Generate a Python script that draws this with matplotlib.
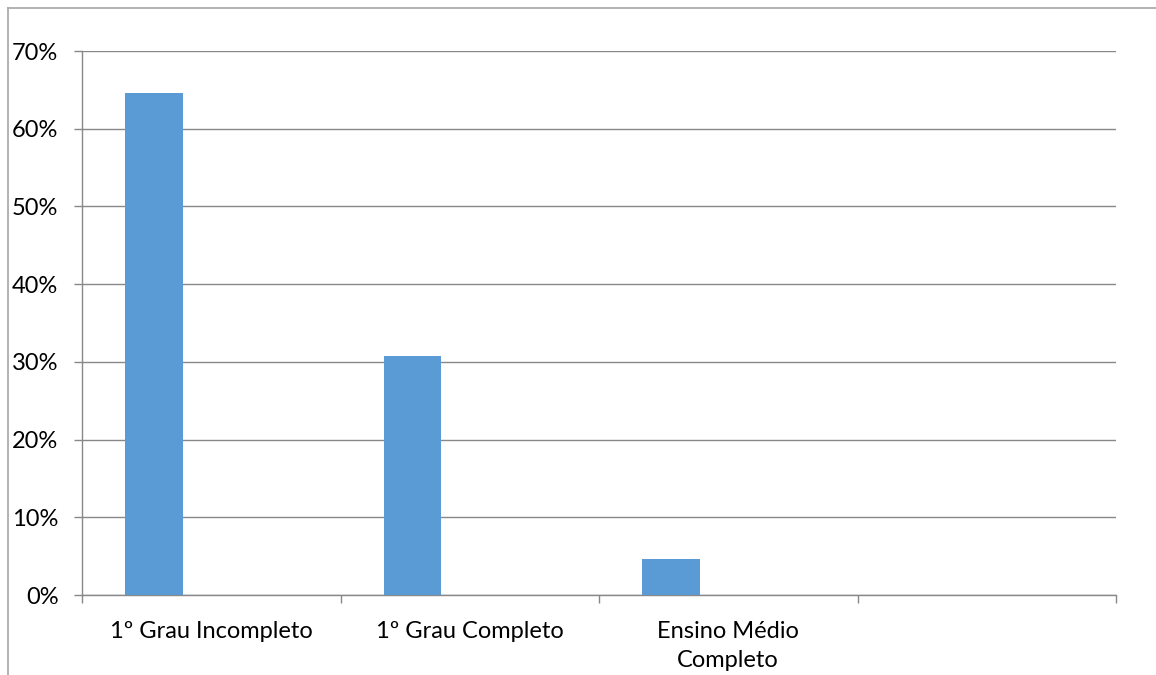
import numpy as np
import matplotlib.pyplot as plt
from matplotlib.lines import Line2D
from matplotlib.ticker import PercentFormatter, FixedLocator

plt.rcParams['font.family'] = ['Lato', 'DejaVu Sans']

# Escolaridade (fração dos entrevistados)
categorias = ['1º Grau Incompleto', '1º Grau Completo', 'Ensino Médio\nCompleto', '']
valores = [0.646, 0.308, 0.046, 0.0]

cor_barra = '#5B9BD5'
cor_grade = '#888888'

fig = plt.figure(figsize=(11.56, 6.75), dpi=100)
ax = fig.add_axes([82/1156, 1 - 595/675, (1116 - 82)/1156, (595 - 51)/675])

# clustered layout: three series per slot, gap width 150 %, only the first has data
n_series = 3
gap = 1.5
w = 1.0 / (n_series + gap)
x = np.arange(len(categorias))
offset = -0.5 + gap * w / 2 + w / 2
ax.bar(x + offset, valores, width=w, color=cor_barra, zorder=3)

ax.set_xlim(-0.5, len(categorias) - 0.5)
ax.set_ylim(0, 0.7)
ax.set_yticks(np.arange(0, 0.71, 0.1))
ax.yaxis.set_major_formatter(PercentFormatter(1.0, decimals=0))
ax.set_xticks(x)
ax.set_xticklabels(categorias, linespacing=1.45)
ax.xaxis.set_minor_locator(FixedLocator(np.arange(-0.5, len(categorias), 1.0)))

ax.grid(axis='y', color=cor_grade, linewidth=1.0, zorder=0)
for lado in ['top', 'right']:
    ax.spines[lado].set_visible(False)
for lado in ['left', 'bottom']:
    ax.spines[lado].set_color(cor_grade)
    ax.spines[lado].set_linewidth(1.0)

ax.tick_params(axis='y', direction='out', length=6, width=1.0, color=cor_grade,
               pad=11, labelsize=17, labelcolor='black')
ax.tick_params(axis='x', which='major', length=0, pad=19, labelsize=17,
               labelcolor='black')
ax.tick_params(axis='x', which='minor', direction='out', length=6, width=1.0,
               color=cor_grade)

# moldura externa do gráfico
fig.add_artist(Line2D([7.5/1156, 7.5/1156], [0, 1 - 8/675],
                      transform=fig.transFigure, color='#a6a6a6', linewidth=1.2))
fig.add_artist(Line2D([7.5/1156, 1], [1 - 8/675, 1 - 8/675],
                      transform=fig.transFigure, color='#a6a6a6', linewidth=1.2))

fig.savefig('out.png', dpi=100)
